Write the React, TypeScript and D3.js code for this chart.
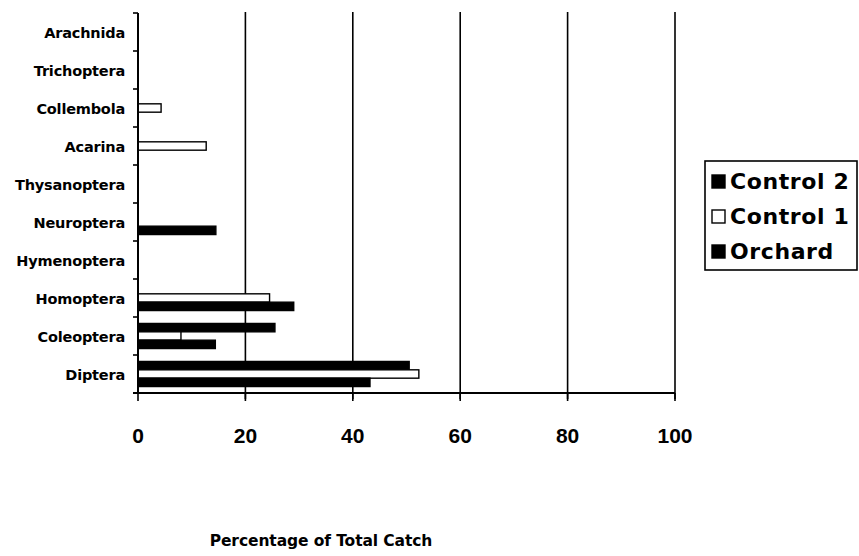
import React from "react";
import * as d3 from "d3";

const categories = ["Arachnida", "Trichoptera", "Collembola", "Acarina", "Thysanoptera", "Neuroptera", "Hymenoptera", "Homoptera", "Coleoptera", "Diptera"];
const seriesNames = ["Control 2", "Control 1", "Orchard"];
const control2 = [0, 0, 0, 0, 0, 0, 0, 0, 25.5, 50.5];
const control1 = [0, 0, 4.3, 12.7, 0, 0, 0, 24.5, 8, 52.3];
const orchard = [0, 0, 0, 0, 0, 14.5, 0, 29, 14.4, 43.2];
const xTicks = [0, 20, 40, 60, 80, 100];
const axisTitle = "Percentage of Total Catch";

const seriesValues = [control2, control1, orchard];
const seriesFill = ["#000", "#fff", "#000"];

export default function App() {
  const W = 859, H = 556;
  const left = 138, right = 675, top = 13, bottom = 393;
  const x = d3.scaleLinear().domain([0, 100]).range([left, right]);
  const y = d3.scaleBand().domain(categories).range([top, bottom]).paddingInner(0.34).paddingOuter(0.17);
  const inner = d3.scaleBand().domain(seriesNames).range([0, y.bandwidth()]);
  const font = "'Liberation Sans', Arial, sans-serif";
  const heavy = "'DejaVu Sans', 'Liberation Sans', sans-serif";
  const bandStep = (bottom - top) / categories.length;
  const catTicks = d3.range(categories.length + 1).map((i) => top + i * bandStep);

  return (
    <div style={{ position: "absolute", left: 0, top: 0 }}>
      <svg width={W} height={H} style={{ display: "block", background: "#fff" }}>
        {/* gridlines */}
        {xTicks.slice(1).map((t) => (
          <line key={"g" + t} x1={x(t)} x2={x(t)} y1={top - 1} y2={bottom + 6} stroke="#000" strokeWidth={1.6} />
        ))}
        {/* bars */}
        {seriesValues.map((vals, si) =>
          vals.map((v, ci) =>
            v > 0 ? (
              <rect
                key={si + "-" + ci}
                x={x(0)}
                y={(y(categories[ci]) as number) + (inner(seriesNames[si]) as number)}
                width={x(v) - x(0)}
                height={inner.bandwidth()}
                fill={seriesFill[si]}
                stroke="#000"
                strokeWidth={1.4}
              />
            ) : null
          )
        )}
        {/* y axis */}
        <line x1={left} x2={left} y1={top} y2={bottom} stroke="#000" strokeWidth={2} />
        {catTicks.map((t, i) => (
          <line key={"yt" + i} x1={left - 5} x2={left} y1={t} y2={t} stroke="#000" strokeWidth={1.6} />
        ))}
        {categories.map((c) => (
          <text
            key={c}
            x={125}
            y={(y(c) as number) + y.bandwidth() / 2 + 6}
            textAnchor="end"
            fontFamily={heavy}
            fontWeight="bold"
            fontSize={14.5}
            letterSpacing={-0.2}
          >
            {c}
          </text>
        ))}
        {/* x axis */}
        <line x1={left - 5} x2={right} y1={bottom} y2={bottom} stroke="#000" strokeWidth={2} />
        {xTicks.map((t) => (
          <line key={"xt" + t} x1={x(t)} x2={x(t)} y1={bottom} y2={bottom + 8} stroke="#000" strokeWidth={1.6} />
        ))}
        {xTicks.map((t) => (
          <text key={"xl" + t} x={x(t)} y={443} textAnchor="middle" fontFamily={font} fontWeight="bold" fontSize={21}>
            {t}
          </text>
        ))}
        <text x={321} y={546} textAnchor="middle" fontFamily={heavy} fontWeight="bold" fontSize={15.5} letterSpacing={-0.1}>
          {axisTitle}
        </text>
        {/* legend */}
        <rect x={705} y={161} width={152} height={109} fill="#fff" stroke="#000" strokeWidth={1.6} />
        {seriesNames.map((s, i) => (
          <g key={s} transform={`translate(712, ${175 + i * 35})`}>
            <rect x={0} y={0} width={13} height={13} fill={seriesFill[i]} stroke="#000" strokeWidth={1.4} />
            <text x={18} y={14} fontFamily={heavy} fontWeight="bold" fontSize={22} letterSpacing={0.6}>
              {s}
            </text>
          </g>
        ))}
      </svg>
    </div>
  );
}
